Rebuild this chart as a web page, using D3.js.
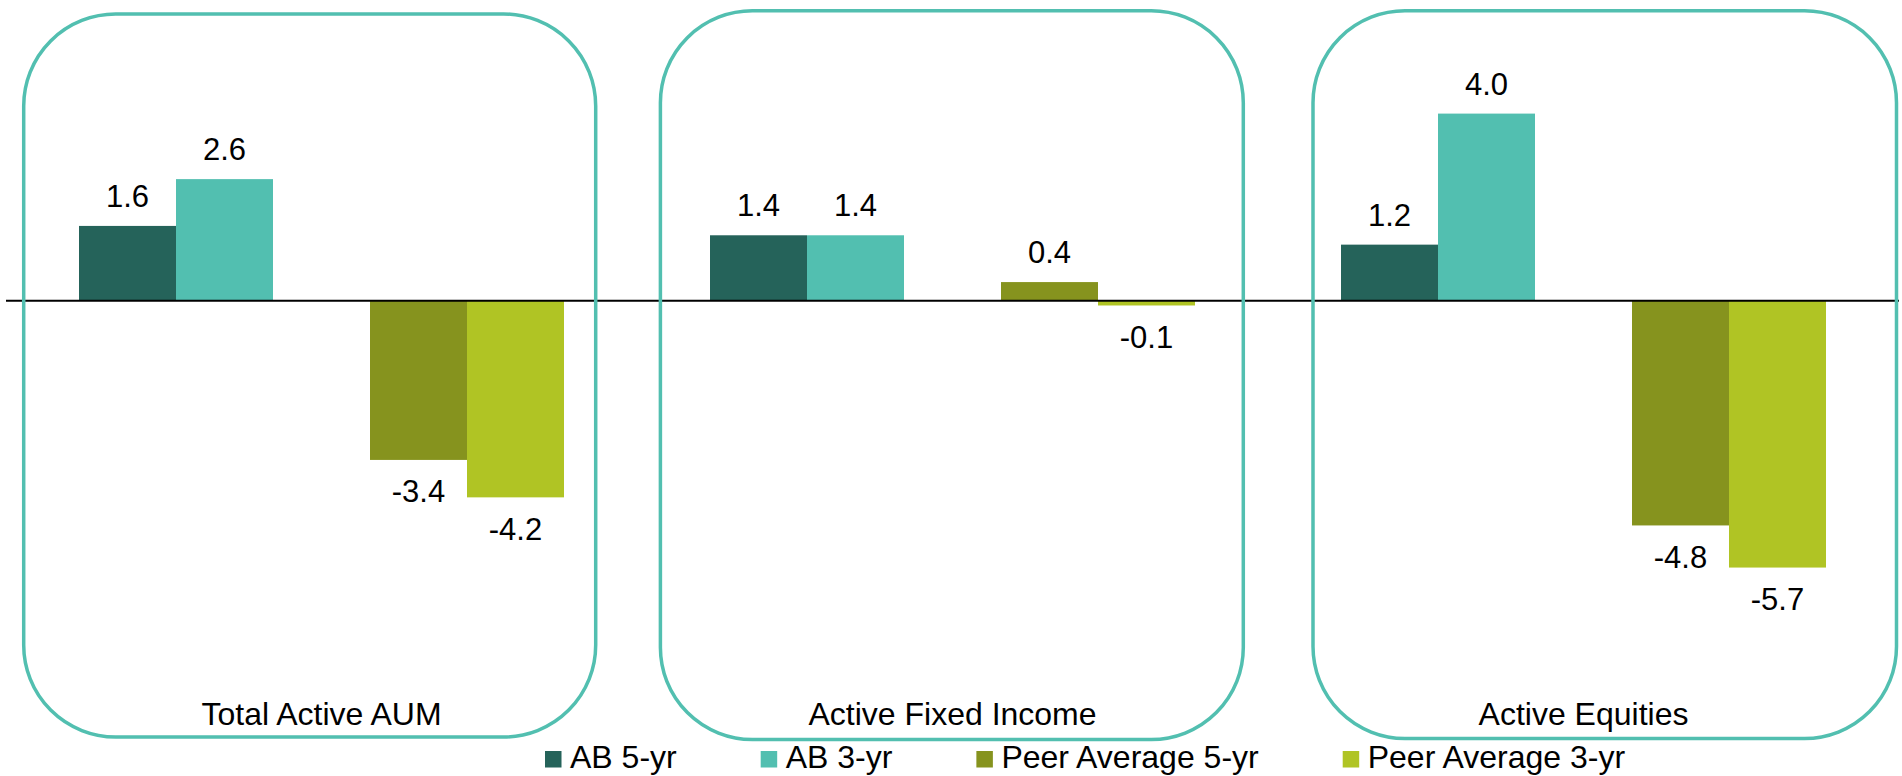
<!DOCTYPE html>
<html>
<head>
<meta charset="utf-8">
<script src="https://cdn.jsdelivr.net/npm/d3@7"></script>
<style>
  html, body { margin: 0; padding: 0; background: #ffffff; }
  svg { display: block; font-family: "Liberation Sans", Arial, Helvetica, sans-serif; }
</style>
</head>
<body>
<svg id="chart" width="1902" height="776"></svg>
<script>
// ---- Data ----
const categories = ["Total Active AUM", "Active Fixed Income", "Active Equities"];
const seriesNames = ["AB 5-yr", "AB 3-yr", "Peer Average 5-yr", "Peer Average 3-yr"];
const ab5yr   = [1.6, 1.4, 1.2];
const ab3yr   = [2.6, 1.4, 4.0];
const peer5yr = [-3.4, 0.4, -4.8];
const peer3yr = [-4.2, -0.1, -5.7];
const seriesValues = [ab5yr, ab3yr, peer5yr, peer3yr];
const seriesColors = ["#25635a", "#52bfb0", "#86931e", "#b0c424"];

// ---- Layout ----
const W = 1902, H = 776;
const svg = d3.select("#chart");
const zeroY = 300.8, pxPerUnit = 46.8;
const yMin = -6, yMax = 6;

const x = d3.scaleBand().domain(categories).range([6, 1899]).paddingInner(0).paddingOuter(0);
// five slots per category; the middle one stays empty
const seriesSlot = [0, 1, 3, 4];
const xSub = d3.scaleBand().domain(d3.range(5)).range([73, x.bandwidth() - 73]).padding(0);
const y = d3.scaleLinear().domain([yMin, yMax])
  .range([zeroY - yMin * pxPerUnit, zeroY - yMax * pxPerUnit]);

const fmt = v => v.toFixed(1);

// flatten
const bars = [];
categories.forEach((c, ci) => {
  seriesNames.forEach((s, si) => {
    bars.push({ cat: c, si, value: seriesValues[si][ci] });
  });
});

// bars
svg.append("g").selectAll("rect").data(bars).join("rect")
  .attr("x", d => x(d.cat) + xSub(seriesSlot[d.si]))
  .attr("width", xSub.bandwidth())
  .attr("y", d => y(Math.max(0, d.value)))
  .attr("height", d => Math.abs(y(d.value) - y(0)))
  .attr("fill", d => seriesColors[d.si]);

// zero line
svg.append("line")
  .attr("x1", x.range()[0]).attr("x2", x.range()[1])
  .attr("y1", y(0)).attr("y2", y(0))
  .attr("stroke", "#000").attr("stroke-width", 2);

// rounded frames around each category (decoration)
const frames = [
  { left: 23.7, right: 595.7, top: 14, bottom: 737 },
  { left: 660.4, right: 1243.3, top: 10.7, bottom: 739.5 },
  { left: 1313, right: 1896.5, top: 10.7, bottom: 738.5 }
];
svg.append("g").selectAll("rect").data(frames).join("rect")
  .attr("x", d => d.left).attr("y", d => d.top)
  .attr("width", d => d.right - d.left).attr("height", d => d.bottom - d.top)
  .attr("rx", 92).attr("ry", 92)
  .attr("fill", "none").attr("stroke", "#52bfb0").attr("stroke-width", 3.5);

// value labels
svg.append("g").selectAll("text").data(bars).join("text")
  .attr("x", d => x(d.cat) + xSub(seriesSlot[d.si]) + xSub.bandwidth() / 2)
  .attr("y", d => d.value >= 0 ? y(d.value) - 19 : y(d.value) + 42.5)
  .attr("text-anchor", "middle")
  .attr("font-size", 31)
  .attr("fill", "#000")
  .text(d => fmt(d.value));

// category axis
const axis = svg.append("g").attr("transform", `translate(0,725)`)
  .call(d3.axisBottom(x).tickSize(0).tickPadding(0));
axis.select(".domain").remove();
axis.selectAll("text")
  .attr("y", 0).attr("dy", 0)
  .attr("font-size", 32)
  .attr("font-family", "Liberation Sans, Arial, sans-serif")
  .attr("fill", "#000");

// legend
const legend = svg.append("g");
let lx = 545;
seriesNames.forEach((s, i) => {
  legend.append("rect").attr("x", lx).attr("y", 751).attr("width", 16.5).attr("height", 16.5)
    .attr("fill", seriesColors[i]);
  const t = legend.append("text").attr("x", lx + 25).attr("y", 768)
    .attr("font-size", 32).attr("fill", "#000").text(s);
  lx = lx + 25 + t.node().getComputedTextLength() + 84;
});
</script>
</body>
</html>
